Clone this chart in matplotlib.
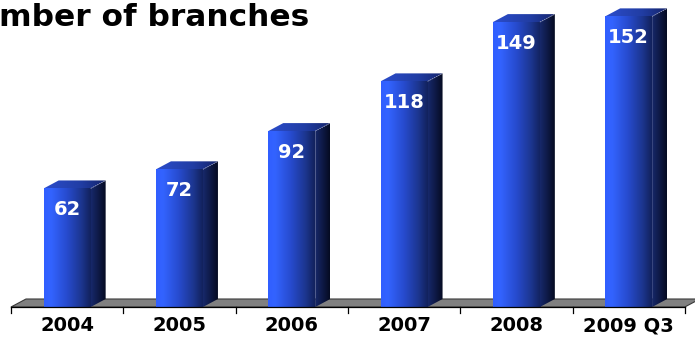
import numpy as np
import matplotlib.pyplot as plt
from matplotlib.colors import LinearSegmentedColormap
from matplotlib.patches import Polygon

# branch count per year
years = ['2004', '2005', '2006', '2007', '2008', '2009 Q3']
branches = [62, 72, 92, 118, 149, 152]
title = 'mber of branches'

plt.rcParams['font.family'] = ['DejaVu Sans']

fig = plt.figure(figsize=(6.95, 3.37), dpi=100)
ax = fig.add_axes([0, 0, 1, 1])
ax.axis('off')

# scale: pixels per category / per branch
kx, ky = 112.3, 1.912
dx, dy = 15 / kx, 8 / ky   # depth offset for the 3D look
w = 47 / kx

front_cmap = LinearSegmentedColormap.from_list('front', [
    (0.00, (0.19, 0.37, 1.00)),
    (0.15, (0.20, 0.39, 1.00)),
    (0.50, (0.15, 0.29, 0.80)),
    (0.80, (0.11, 0.21, 0.56)),
    (1.00, (0.07, 0.13, 0.36))])
side_cmap = LinearSegmentedColormap.from_list('side', [
    (0.00, (0.09, 0.16, 0.42)),
    (1.00, (0.02, 0.04, 0.13))])
top_cmap = LinearSegmentedColormap.from_list('top', [
    (0.00, (0.17, 0.30, 0.80)),
    (0.60, (0.13, 0.24, 0.64)),
    (1.00, (0.08, 0.14, 0.42))])
grad = np.linspace(0, 1, 256).reshape(1, -1)

n = len(years)
x = np.arange(n)

# grey floor
floor = Polygon([(-0.5, 0), (n - 0.5, 0), (n - 0.5 + dx, dy), (-0.5 + dx, dy)],
                closed=True, fc='#808080', ec='#3a3a3a', lw=0.8, zorder=1)
ax.add_patch(floor)

bars = ax.bar(x, branches, w, color='none', zorder=2)
for b, v in zip(bars, branches):
    x0 = b.get_x()
    x1 = x0 + b.get_width()
    # front face
    ax.imshow(grad, cmap=front_cmap, extent=[x0, x1, 0, v], aspect='auto',
              interpolation='bilinear', zorder=3)
    # right side face
    side = Polygon([(x1, 0), (x1 + dx, dy), (x1 + dx, v + dy), (x1, v)],
                   closed=True, fc='none', ec='none')
    ax.add_patch(side)
    im = ax.imshow(grad, cmap=side_cmap, extent=[x1, x1 + dx, 0, v + dy],
                   aspect='auto', interpolation='bilinear', zorder=3)
    im.set_clip_path(side)
    # top face
    top = Polygon([(x0, v), (x1, v), (x1 + dx, v + dy), (x0 + dx, v + dy)],
                  closed=True, fc='none', ec='none')
    ax.add_patch(top)
    im = ax.imshow(grad, cmap=top_cmap, extent=[x0, x1 + dx, v, v + dy],
                   aspect='auto', interpolation='bilinear', zorder=3)
    im.set_clip_path(top)
    ax.plot([x1, x1 + dx], [v, v + dy], color='#9aa0c0', lw=0.5, ls=(0, (2, 1.5)), zorder=4)

    ax.text(x0 + w / 2, v - 14, str(v), color='white', fontsize=14,
            fontweight='bold', ha='center', va='baseline', zorder=5)

# axis line and ticks
ax.plot([-0.5, n - 0.5], [0, 0], color='black', lw=0.9, zorder=4)
for t in np.arange(n + 1) - 0.5:
    ax.plot([t, t], [0, -6 / ky], color='black', lw=0.9, zorder=4)

for i, yr in enumerate(years):
    ax.text(i, -12.8, yr, ha='center', va='baseline', fontsize=14,
            fontweight='bold', color='black')

fig.text(-1 / 695, 1 - 26 / 337, title, ha='left', va='baseline',
         fontsize=22.5, fontweight='bold', color='black')

ax.set_xlim(-0.5 - 11 / kx, -0.5 + (695 - 11) / kx)
ax.set_ylim(-30 / ky, 307 / ky)

fig.savefig('out.png', dpi=100)
